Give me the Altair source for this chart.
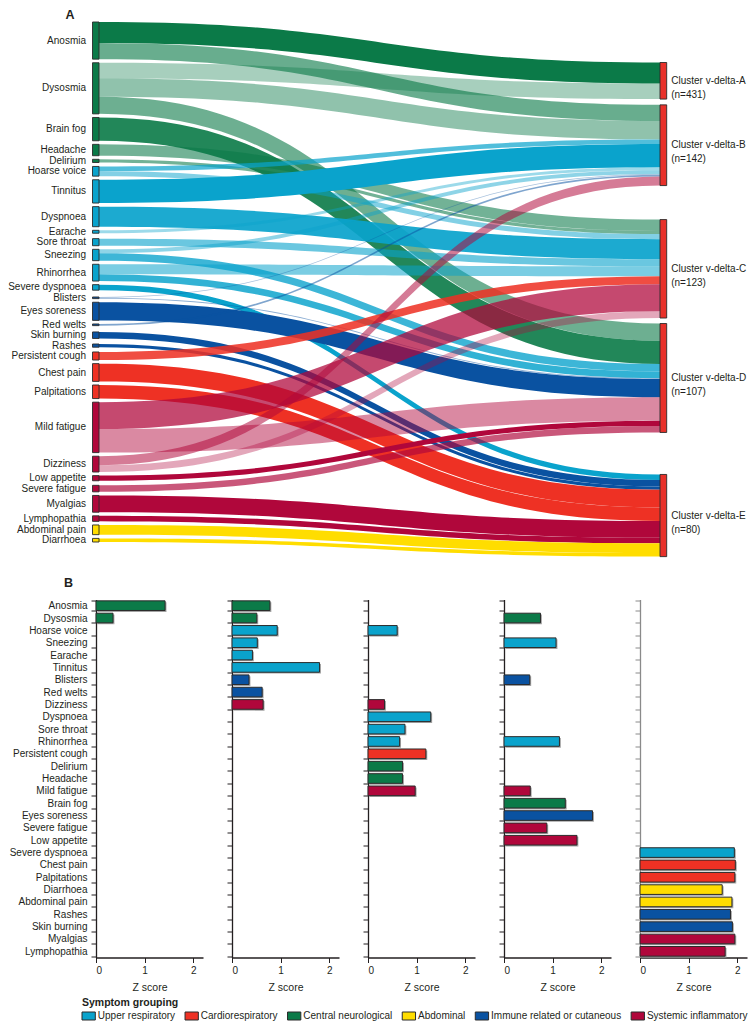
import altair as alt
import numpy as np
import pandas as pd

FONT = "Liberation Sans, Arial, sans-serif"
FS = 10
TXT = "#231f20"

# ---------------- data ----------------
symptoms = ["Anosmia", "Dysosmia", "Brain fog", "Headache", "Delirium", "Hoarse voice",
            "Tinnitus", "Dyspnoea", "Earache", "Sore throat", "Sneezing", "Rhinorrhea",
            "Severe dyspnoea", "Blisters", "Eyes soreness", "Red welts", "Skin burning",
            "Rashes", "Persistent cough", "Chest pain", "Palpitations", "Mild fatigue",
            "Dizziness", "Low appetite", "Severe fatigue", "Myalgias", "Lymphopathia",
            "Abdominal pain", "Diarrhoea"]
symptom_groups = (["Central neurological"] * 5 + ["Upper respiratory"] * 8 +
                  ["Immune related or cutaneous"] * 5 + ["Cardiorespiratory"] * 3 +
                  ["Systemic inflammatory"] * 6 + ["Abdominal"] * 2)

group_names = ["Upper respiratory", "Cardiorespiratory", "Central neurological",
               "Abdominal", "Immune related or cutaneous", "Systemic inflammatory"]
group_colors = ["#0aa3cc", "#ee3124", "#0b7a48", "#ffdd00", "#0a52a1", "#b0073b"]

clusters = ["A", "B", "C", "D", "E"]
cluster_names = ["Cluster v-delta-A", "Cluster v-delta-B", "Cluster v-delta-C",
                 "Cluster v-delta-D", "Cluster v-delta-E"]
cluster_n = ["(n=431)", "(n=142)", "(n=123)", "(n=107)", "(n=80)"]

# flows: symptom -> cluster, width of the flow and Z score of the symptom in that cluster
link_source = ["Anosmia", "Anosmia", "Dysosmia", "Dysosmia", "Dysosmia", "Brain fog",
               "Headache", "Delirium", "Hoarse voice", "Hoarse voice", "Tinnitus",
               "Dyspnoea", "Earache", "Sore throat", "Sneezing", "Sneezing",
               "Rhinorrhea", "Rhinorrhea", "Severe dyspnoea", "Blisters", "Blisters",
               "Eyes soreness", "Red welts", "Skin burning", "Rashes", "Persistent cough",
               "Chest pain", "Palpitations", "Mild fatigue", "Mild fatigue", "Dizziness",
               "Dizziness", "Low appetite", "Severe fatigue", "Myalgias", "Lymphopathia",
               "Abdominal pain", "Diarrhoea"]
link_target = ["A", "B", "A", "B", "D", "D",
               "C", "C", "B", "C", "B",
               "C", "B", "C", "B", "D",
               "C", "D", "E", "B", "D",
               "D", "B", "E", "E", "C",
               "E", "E", "C", "D", "B",
               "C", "D", "D", "E", "E",
               "E", "E"]
link_value = [21.7, 16.6, 16.0, 19.0, 17.7, 24.0,
              11.7, 3.3, 4.8, 5.2, 24.0,
              20.7, 3.0, 7.3, 4.0, 7.7,
              10.3, 7.0, 5.7, 0.8, 0.9,
              18.7, 1.7, 6.7, 3.3, 8.3,
              18.3, 14.0, 27.7, 24.3, 9.3,
              7.0, 5.3, 6.7, 17.3, 5.7,
              10.0, 3.7]
link_z = [1.42, 0.78, 0.35, 0.51, 0.75, 1.26,
          0.71, 0.71, 0.93, 0.60, 1.80,
          1.29, 0.42, 0.76, 0.52, 1.07,
          0.65, 1.14, 1.94, 0.35, 0.53,
          1.82, 0.62, 1.90, 1.86, 1.19,
          1.96, 1.95, 0.97, 0.54, 0.64,
          0.34, 1.50, 0.88, 1.95, 1.75,
          1.89, 1.69]

bar_order = ["Anosmia", "Dysosmia", "Hoarse voice", "Sneezing", "Earache", "Tinnitus",
             "Blisters", "Red welts", "Dizziness", "Dyspnoea", "Sore throat", "Rhinorrhea",
             "Persistent cough", "Delirium", "Headache", "Mild fatigue", "Brain fog",
             "Eyes soreness", "Severe fatigue", "Low appetite", "Severe dyspnoea",
             "Chest pain", "Palpitations", "Diarrhoea", "Abdominal pain", "Rashes",
             "Skin burning", "Myalgias", "Lymphopathia"]

# ---------------- layout (page pixels) ----------------
B_FIRST_EXTENT = 88
ORIGIN_X = 8 + B_FIRST_EXTENT          # all rows share this plot origin
PX_PER_UNIT = 0.97
X_LEFT_NODE = (92.5, 99.0)
X_RIGHT_NODE = (660.0, 666.7)
LEFT_SPAN = (21.0, 541.0)
RIGHT_TOP = 61.5
RIGHT_GAPS = [5.8, 34.0, 5.5, 42.0]
MIN_LABEL_SEP = 10.4
A_DOMAIN_Y = (8.0, 590.0)
A_DOMAIN_X = (ORIGIN_X, 748.0)
CLUSTER_RED = "#e8312a"

B_WIDTH, B_HEIGHT = 107, 358
B_STEP_SPACING = 23

LEG_X0 = 82.0
LEG_SW_W, LEG_SW_H = 13.3, 8.0
LEG_LABEL_OFF = 2.5
LEG_GAP = 10.0
LEG_H = 26

ARIAL = {" ": 278, "-": 333, "(": 333, ")": 333, "=": 584, "a": 556, "b": 556, "c": 500,
         "d": 556, "e": 556, "f": 278, "g": 556, "h": 556, "i": 222, "j": 222, "k": 500,
         "l": 222, "m": 833, "n": 556, "o": 556, "p": 556, "q": 556, "r": 333, "s": 500,
         "t": 278, "u": 556, "v": 500, "w": 722, "x": 500, "y": 500, "z": 500, "A": 667,
         "C": 722, "I": 278, "S": 667, "U": 722}


def text_width(s, size):
    return sum(ARIAL.get(ch, 556) for ch in s) * size / 1000.0


color_of = dict(zip(group_names, group_colors))
grp_of = dict(zip(symptoms, symptom_groups))
src_idx = np.array([symptoms.index(s) for s in link_source])
tgt_idx = np.array([clusters.index(c) for c in link_target])
w = np.array(link_value) * PX_PER_UNIT
L = len(w)

left_h = [w[src_idx == i].sum() for i in range(len(symptoms))]
right_h = [w[tgt_idx == k].sum() for k in range(len(clusters))]


def stack_left(gap):
    tops, y, prev = [], LEFT_SPAN[0], None
    for h in left_h:
        c = y + h / 2
        if prev is not None and c - prev < MIN_LABEL_SEP:
            c = prev + MIN_LABEL_SEP
        tops.append(c - h / 2)
        prev = c
        y = c + h / 2 + gap
    return tops


lo, hi = 0.0, 20.0
for _ in range(60):
    g = (lo + hi) / 2
    t = stack_left(g)
    if t[-1] + left_h[-1] > LEFT_SPAN[1]:
        hi = g
    else:
        lo = g
left_top = stack_left(lo)

right_top = []
y = RIGHT_TOP
for k, h in enumerate(right_h):
    right_top.append(y)
    y += h + (RIGHT_GAPS[k] if k < len(RIGHT_GAPS) else 0)

y0 = np.zeros(L)
off = list(left_top)
for j in sorted(range(L), key=lambda j: (src_idx[j], tgt_idx[j])):
    y0[j] = off[src_idx[j]]
    off[src_idx[j]] += w[j]
y1 = np.zeros(L)
off = list(right_top)
for j in sorted(range(L), key=lambda j: (tgt_idx[j], src_idx[j])):
    y1[j] = off[tgt_idx[j]]
    off[tgt_idx[j]] += w[j]

rows = []
xa, xb = X_LEFT_NODE[1], X_RIGHT_NODE[0]
for j in range(L):
    for s in np.linspace(0, 1, 48):
        xf = 1.5 * s - 1.5 * s ** 2 + s ** 3
        f = 3 * s ** 2 - 2 * s ** 3
        top = y0[j] + (y1[j] - y0[j]) * f
        rows.append({"link": j, "x": xa + (xb - xa) * xf, "ytop": top,
                     "ybot": top + w[j], "z": link_z[j],
                     "color": color_of[grp_of[link_source[j]]]})
links_df = pd.DataFrame(rows)

lnodes = pd.DataFrame({
    "x": X_LEFT_NODE[0], "x2": X_LEFT_NODE[1],
    "y": left_top, "y2": [t + h for t, h in zip(left_top, left_h)],
    "yc": [t + h / 2 for t, h in zip(left_top, left_h)],
    "label": symptoms,
    "color": [color_of[g] for g in symptom_groups]})
rnodes = pd.DataFrame({
    "x": X_RIGHT_NODE[0], "x2": X_RIGHT_NODE[1],
    "y": right_top, "y2": [t + h for t, h in zip(right_top, right_h)],
    "yc": [t + h / 2 for t, h in zip(right_top, right_h)],
    "name": cluster_names, "n": cluster_n})
letters = pd.DataFrame({"x": [70.0, 68.5], "y": [13.5, 582.0], "t": ["A", "B"]})

xs = alt.Scale(domain=list(A_DOMAIN_X), nice=False, zero=False)
ys = alt.Scale(domain=list(A_DOMAIN_Y), nice=False, zero=False, reverse=True)

flows = alt.Chart(links_df).mark_area(orient="vertical", interpolate="linear").encode(
    x=alt.X("x:Q", scale=xs, axis=None),
    y=alt.Y("ytop:Q", scale=ys, axis=None, stack=None),
    y2="ybot:Q",
    fill=alt.Fill("color:N", scale=None),
    opacity=alt.Opacity("z:Q", scale=alt.Scale(domain=[0, 1.4167], range=[0.15, 1.0], clamp=True),
                        legend=None),
    detail="link:N",
)
lrect = alt.Chart(lnodes).mark_rect(stroke="#2b2b2b", strokeWidth=0.9).encode(
    x=alt.X("x:Q", scale=xs, axis=None), x2="x2:Q",
    y=alt.Y("y:Q", scale=ys, axis=None), y2="y2:Q",
    fill=alt.Fill("color:N", scale=None))
rrect = alt.Chart(rnodes).mark_rect(stroke="#2b2b2b", strokeWidth=0.9, fill=CLUSTER_RED).encode(
    x=alt.X("x:Q", scale=xs, axis=None), x2="x2:Q",
    y=alt.Y("y:Q", scale=ys, axis=None), y2="y2:Q")
ltext = alt.Chart(lnodes).mark_text(align="right", baseline="middle", font=FONT,
                                    fontSize=FS, color=TXT, dx=-6.5).encode(
    x=alt.X("x:Q", scale=xs, axis=None), y=alt.Y("yc:Q", scale=ys, axis=None), text="label:N")
rtext1 = alt.Chart(rnodes).mark_text(align="left", baseline="middle", font=FONT,
                                     fontSize=FS, color=TXT, dx=4.5).encode(
    x=alt.X("x2:Q", scale=xs, axis=None), y=alt.Y("yc:Q", scale=ys, axis=None), text="name:N")
rtext2 = alt.Chart(rnodes).mark_text(align="left", baseline="middle", font=FONT,
                                     fontSize=FS, color=TXT, dx=4.5, dy=14).encode(
    x=alt.X("x2:Q", scale=xs, axis=None), y=alt.Y("yc:Q", scale=ys, axis=None), text="n:N")
ltr = alt.Chart(letters).mark_text(align="center", baseline="middle", font=FONT,
                                   fontSize=12.5, fontWeight="bold", color=TXT).encode(
    x=alt.X("x:Q", scale=xs, axis=None), y=alt.Y("y:Q", scale=ys, axis=None), text="t:N")

panelA = alt.layer(flows, lrect, rrect, ltext, rtext1, rtext2, ltr).properties(
    width=A_DOMAIN_X[1] - A_DOMAIN_X[0], height=A_DOMAIN_Y[1] - A_DOMAIN_Y[0])

# ---------------- panel B ----------------
bars = pd.DataFrame({"symptom": link_source, "cluster": link_target, "z": link_z,
                     "group": [grp_of[s] for s in link_source]})

color_scale = alt.Scale(domain=group_names, range=group_colors)

panels = []
for i, k in enumerate(clusters):
    first = i == 0
    last = i == len(clusters) - 1
    axcol = "#8a8a8a" if last else TXT
    ext = B_FIRST_EXTENT if first else 5
    yaxis = alt.Axis(title=None, tickBand="extent", labels=first, tickSize=5,
                     labelFont=FONT, labelFontSize=FS, labelColor=TXT, labelPadding=4,
                     domainColor=axcol, tickColor=axcol, domainWidth=1.3, tickWidth=1,
                     minExtent=ext, maxExtent=ext)
    xaxis = alt.Axis(title="Z score", values=[0, 1, 2], format="d", tickSize=5,
                     labelFont=FONT, labelFontSize=FS, labelColor=TXT, labelPadding=3,
                     titleFont=FONT, titleFontSize=10.5, titleFontWeight="normal",
                     titleColor=TXT, titlePadding=7, domainColor=TXT, tickColor=TXT,
                     domainWidth=1.3, grid=False)
    xsc = alt.Scale(domain=[0, 2.2], nice=False)
    ysc = alt.Scale(domain=bar_order, paddingInner=0.22, paddingOuter=0.11)
    base = alt.Chart(bars).transform_filter(alt.datum.cluster == k)
    shadow = base.mark_bar(color="#a3a3a3", xOffset=1.4, yOffset=1.4).encode(
        x=alt.X("z:Q", scale=xsc, axis=xaxis),
        y=alt.Y("symptom:N", scale=ysc, axis=yaxis, sort=bar_order))
    bar = base.mark_bar(stroke="#2b2b2b", strokeWidth=1).encode(
        x=alt.X("z:Q", scale=xsc, axis=xaxis),
        y=alt.Y("symptom:N", scale=ysc, axis=yaxis, sort=bar_order),
        fill=alt.Fill("group:N", scale=color_scale, legend=None))
    panels.append(alt.layer(shadow, bar).properties(width=B_WIDTH, height=B_HEIGHT))

panelB = alt.hconcat(*panels, spacing=B_STEP_SPACING)

# ---------------- legend row ----------------
leg_x = []
xcur = LEG_X0
for name in group_names:
    leg_x.append(xcur)
    xcur += LEG_SW_W + LEG_LABEL_OFF + text_width(name, FS) + LEG_GAP
item_y = 19.0
leg_df = pd.DataFrame({"x": leg_x, "x2": [v + LEG_SW_W for v in leg_x],
                       "tx": [v + LEG_SW_W + LEG_LABEL_OFF for v in leg_x],
                       "y": item_y - LEG_SW_H / 2, "y2": item_y + LEG_SW_H / 2, "yc": item_y,
                       "label": group_names, "color": group_colors})
leg_title = pd.DataFrame({"x": [LEG_X0], "y": [5.5], "t": ["Symptom grouping"]})
lxs = alt.Scale(domain=list(A_DOMAIN_X), nice=False, zero=False)
lys = alt.Scale(domain=[0, LEG_H], nice=False, zero=False, reverse=True)
leg_rect = alt.Chart(leg_df).mark_rect(stroke="#2b2b2b", strokeWidth=1).encode(
    x=alt.X("x:Q", scale=lxs, axis=None), x2="x2:Q",
    y=alt.Y("y:Q", scale=lys, axis=None), y2="y2:Q",
    fill=alt.Fill("color:N", scale=None))
leg_text = alt.Chart(leg_df).mark_text(align="left", baseline="middle", font=FONT,
                                       fontSize=FS, color=TXT).encode(
    x=alt.X("tx:Q", scale=lxs, axis=None), y=alt.Y("yc:Q", scale=lys, axis=None),
    text="label:N")
leg_ttl = alt.Chart(leg_title).mark_text(align="left", baseline="middle", font=FONT,
                                         fontSize=10.5, fontWeight="bold", color=TXT).encode(
    x=alt.X("x:Q", scale=lxs, axis=None), y=alt.Y("y:Q", scale=lys, axis=None), text="t:N")
legend_row = alt.layer(leg_rect, leg_text, leg_ttl).properties(
    width=A_DOMAIN_X[1] - A_DOMAIN_X[0], height=LEG_H)

chart = alt.vconcat(panelA, panelB, legend_row, spacing=3.5).properties(
    padding=0).configure_view(stroke=None)

chart.save("out.html", embed_options={"renderer": "svg", "actions": False})
